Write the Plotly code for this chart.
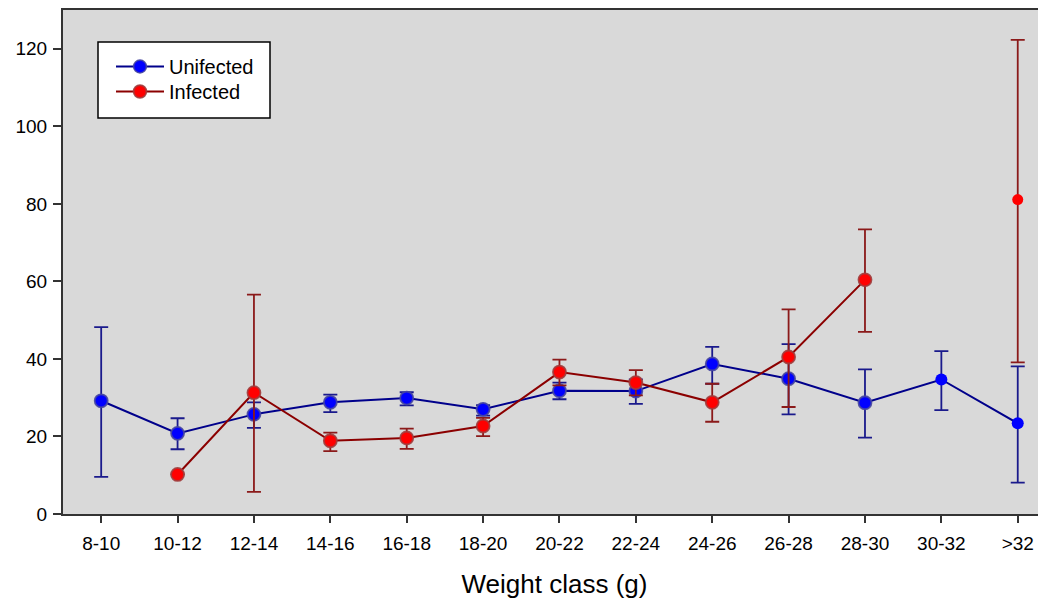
import plotly.graph_objects as go

categories = ["8-10", "10-12", "12-14", "14-16", "16-18", "18-20", "20-22",
              "22-24", "24-26", "26-28", "28-30", "30-32", ">32"]

unf_mean = [29.2, 20.8, 25.7, 28.8, 29.9, 27.0, 31.8, 31.7, 38.7, 34.9, 28.7, 34.7, 23.4]
unf_hi   = [48.2, 24.7, 28.8, 30.8, 31.4, 28.1, 33.9, 34.7, 43.1, 43.8, 37.3, 42.0, 38.1]
unf_lo   = [9.6, 16.7, 22.2, 26.3, 28.0, 25.4, 29.6, 28.4, 33.6, 25.7, 19.7, 26.8, 8.1]

inf_mean = [None, 10.2, 31.3, 18.9, 19.6, 22.7, 36.6, 33.9, 28.8, 40.5, 60.4, None, 81.1]
inf_hi   = [None, 10.2, 56.6, 21.0, 22.0, 24.8, 39.8, 37.1, 33.6, 52.8, 73.4, None, 122.3]
inf_lo   = [None, 10.2, 5.7, 16.2, 16.8, 20.1, 33.2, 30.6, 23.8, 27.6, 47.0, None, 39.1]

y_ticks = [0, 20, 40, 60, 80, 100, 120]


def err(mean, hi, lo):
    up = [None if m is None else h - m for m, h in zip(mean, hi)]
    dn = [None if m is None else m - l for m, l in zip(mean, lo)]
    return up, dn


x_idx = list(range(len(categories)))
FONT = "Arial, Liberation Sans, sans-serif"

# page body has an 8px default margin; compensate so the plot lands where intended
OFF = 8
W, H = 1046 - OFF, 604 - OFF
L, T, B = 63 - OFF, 10 - OFF, 90
PW, PH = W - L, H - T - B

fig = go.Figure()

u_up, u_dn = err(unf_mean, unf_hi, unf_lo)
i_up, i_dn = err(inf_mean, inf_hi, inf_lo)

unf_ring = [1.8] * 11 + [0, 0]
inf_ring = [1.8] * 12 + [0]
unf_size = [13] * 11 + [12, 12]
inf_size = [13] * 12 + [11]

fig.add_trace(go.Scatter(
    x=x_idx, y=unf_mean, name="Unifected", mode="lines+markers",
    line=dict(color="#00008B", width=2), legend="legend",
    marker=dict(color="#0000FF", size=unf_size, opacity=1,
                line=dict(color="rgba(70,70,160,0.9)", width=unf_ring)),
    error_y=dict(type="data", symmetric=False, array=u_up, arrayminus=u_dn,
                 color="#1A1A8C", thickness=1.8, width=7),
))

fig.add_trace(go.Scatter(
    x=x_idx, y=inf_mean, name="Infected", mode="lines+markers",
    line=dict(color="#8B0000", width=2), legend="legend2",
    connectgaps=False,
    marker=dict(color="#FF0000", size=inf_size, opacity=1,
                line=dict(color="rgba(160,60,60,0.9)", width=inf_ring)),
    error_y=dict(type="data", symmetric=False, array=i_up, arrayminus=i_dn,
                 color="#8B1A1A", thickness=1.8, width=7),
))


def px_x(p):
    return (p - 63) / PW


def px_y(p):
    return (514 - p) / PH


leg_common = dict(xanchor="left", yanchor="top", bgcolor="rgba(0,0,0,0)",
                  borderwidth=0, itemwidth=48, font=dict(size=20, family=FONT))

fig.update_layout(
    width=W, height=H,
    margin=dict(l=L, r=0, t=T, b=B, autoexpand=False),
    paper_bgcolor="white",
    plot_bgcolor="#D9D9D9",
    font=dict(family=FONT, size=19, color="black"),
    showlegend=True,
    legend=dict(x=px_x(111), y=px_y(47), **leg_common),
    legend2=dict(x=px_x(111), y=px_y(72), **leg_common),
    shapes=[dict(type="rect", xref="paper", yref="paper",
                 x0=px_x(98), x1=px_x(270), y0=px_y(118), y1=px_y(42),
                 line=dict(color="black", width=1.5), fillcolor="white",
                 layer="above")],
)

fig.update_xaxes(
    range=[-0.5, 12.37], tickmode="array", tickvals=x_idx, ticktext=categories,
    showgrid=False, zeroline=False, showline=True, linecolor="#333333", linewidth=2,
    mirror=True, ticks="outside", ticklen=7, tickwidth=1.5, tickcolor="#333333",
    tickfont=dict(size=19, family=FONT), automargin=False, ticklabelstandoff=4,
    title=dict(text="Weight class (g)", font=dict(size=26, family=FONT), standoff=22),
)
fig.update_yaxes(
    range=[0, 130], tickmode="array", tickvals=y_ticks,
    showgrid=False, zeroline=False, showline=True, linecolor="#333333", linewidth=2,
    mirror=True, ticks="outside", ticklen=8, tickwidth=1.5, tickcolor="#333333",
    tickfont=dict(size=19, family=FONT), automargin=False, ticklabelstandoff=2,
)

fig.write_html("out.html")
